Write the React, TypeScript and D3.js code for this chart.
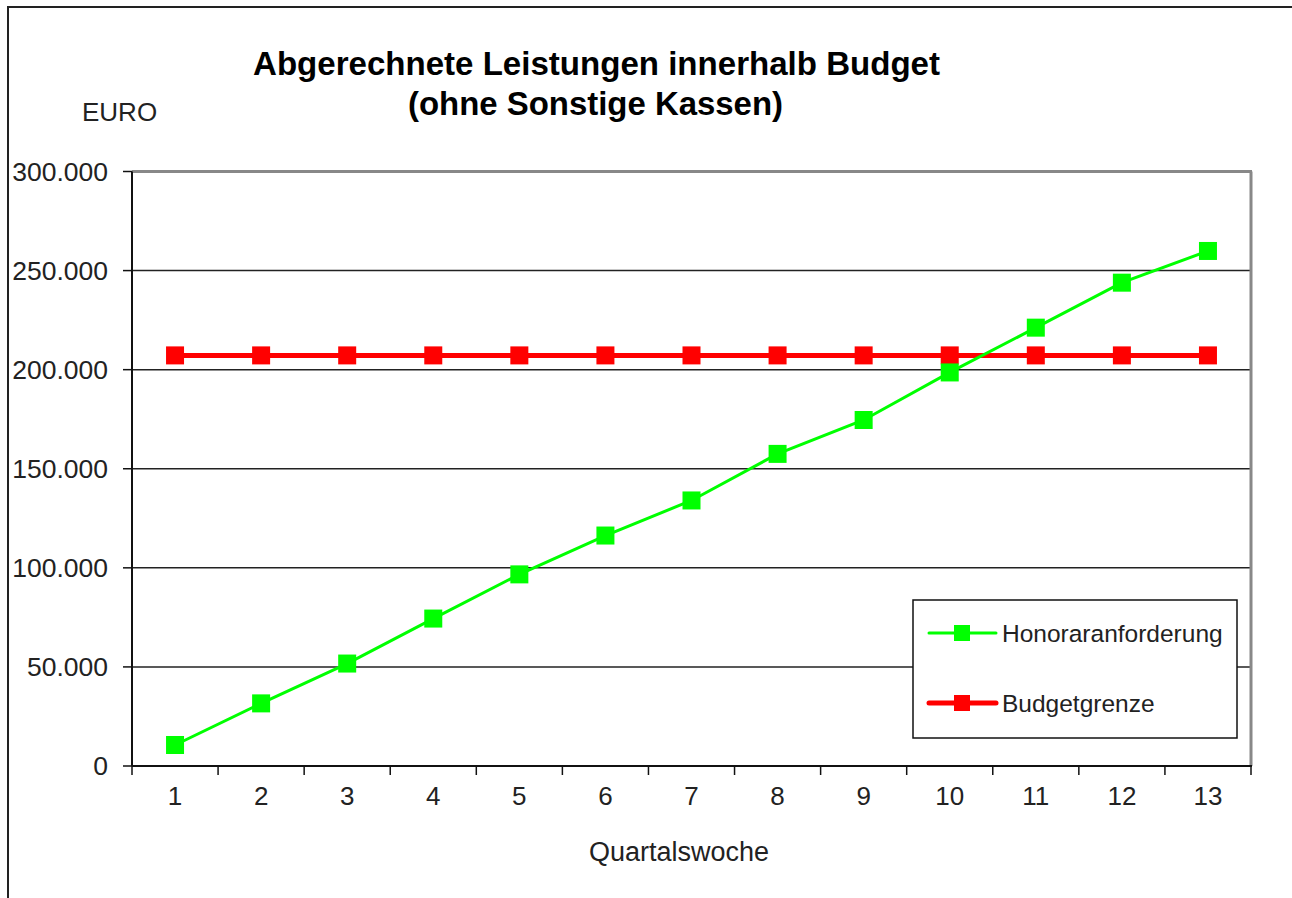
import React from "react";
import * as d3 from "d3";

// Quartalswochen und Werte (EURO)
const weeks = ["1", "2", "3", "4", "5", "6", "7", "8", "9", "10", "11", "12", "13"];
const honorar = [10600, 31600, 51700, 74400, 96700, 116300, 134000, 157500, 174600, 198600, 221200, 243900, 259900];
const budget = [207200, 207200, 207200, 207200, 207200, 207200, 207200, 207200, 207200, 207200, 207200, 207200, 207200];
const yTicks = [0, 50000, 100000, 150000, 200000, 250000, 300000];

const seriesList = [
  { name: "Honoraranforderung", values: honorar, color: "#00ff00", width: 3 },
  { name: "Budgetgrenze", values: budget, color: "#ff0000", width: 5 },
];

const W = 1292;
const H = 898;
const plot = { left: 132, right: 1251, top: 171.5, bottom: 766 };
const font = "'Liberation Sans', Arial, sans-serif";

const de = d3.formatLocale({ decimal: ",", thousands: ".", grouping: [3], currency: ["", " €"] });
const fmt = de.format(",d");

export default function App() {
  const x = d3.scaleBand<string>().domain(weeks).range([plot.left, plot.right]).padding(0);
  const y = d3.scaleLinear().domain([0, 300000]).range([plot.bottom, plot.top]);
  const cx = (w: string) => (x(w) ?? 0) + x.bandwidth() / 2;

  const line = d3
    .line<number>()
    .x((_, i) => cx(weeks[i]))
    .y((d) => y(d));

  const boundaries = weeks.map((w) => x(w) ?? 0).concat([plot.right]);
  const ms = 18; // marker size

  return (
    <svg width={W} height={H} style={{ position: "absolute", left: 0, top: 0, background: "#fff" }}>
      {/* outer frame */}
      <rect x={8} y={7} width={1400} height={1000} fill="#fff" stroke="#222" strokeWidth={2} />

      {/* title */}
      <g fontFamily={font} fontWeight="bold" fontSize={33} textAnchor="middle" fill="#000">
        <text x={596.5} y={75} textLength={687} lengthAdjust="spacingAndGlyphs">
          Abgerechnete Leistungen innerhalb Budget
        </text>
        <text x={595.5} y={115} textLength={375} lengthAdjust="spacingAndGlyphs">
          (ohne Sonstige Kassen)
        </text>
      </g>

      <text x={82} y={121} fontFamily={font} fontSize={26} fill="#222">
        EURO
      </text>

      {/* gridlines */}
      {yTicks
        .filter((t) => t > 0 && t < 300000)
        .map((t) => (
          <line key={t} x1={plot.left} x2={plot.right} y1={y(t)} y2={y(t)} stroke="#222" strokeWidth={1.5} />
        ))}

      {/* plot border: top and right grey */}
      <line x1={plot.left} x2={plot.right + 1} y1={plot.top} y2={plot.top} stroke="#888" strokeWidth={3} />
      <line x1={plot.right} x2={plot.right} y1={plot.top} y2={plot.bottom} stroke="#888" strokeWidth={3} />

      {/* y axis */}
      <line x1={plot.left} x2={plot.left} y1={plot.top} y2={plot.bottom} stroke="#111" strokeWidth={2} />
      {yTicks.map((t) => (
        <g key={t}>
          <line x1={plot.left - 9} x2={plot.left} y1={y(t)} y2={y(t)} stroke="#111" strokeWidth={1.5} />
          <text
            x={108}
            y={y(t)}
            dy="0.35em"
            textAnchor="end"
            fontFamily={font}
            fontSize={26.5}
            fill="#222"
          >
            {fmt(t)}
          </text>
        </g>
      ))}

      {/* x axis */}
      <line x1={plot.left} x2={plot.right + 1} y1={plot.bottom} y2={plot.bottom} stroke="#111" strokeWidth={2} />
      {boundaries.map((b, i) => (
        <line key={i} x1={b} x2={b} y1={plot.bottom} y2={plot.bottom + 9} stroke="#111" strokeWidth={1.5} />
      ))}
      {weeks.map((w) => (
        <text key={w} x={cx(w)} y={805} textAnchor="middle" fontFamily={font} fontSize={26} fill="#222">
          {w}
        </text>
      ))}
      <text x={679} y={861} textAnchor="middle" fontFamily={font} fontSize={27} fill="#222">
        Quartalswoche
      </text>

      {/* series: budget first, green on top */}
      {[seriesList[1], seriesList[0]].map((s) => (
        <g key={s.name}>
          <path d={line(s.values) ?? ""} fill="none" stroke={s.color} strokeWidth={s.width} />
          {s.values.map((v, i) => (
            <rect
              key={i}
              x={cx(weeks[i]) - ms / 2}
              y={y(v) - ms / 2}
              width={ms}
              height={ms}
              fill={s.color}
            />
          ))}
        </g>
      ))}

      {/* legend */}
      <rect x={913} y={600} width={324} height={138} fill="#fff" stroke="#111" strokeWidth={1.5} />
      {seriesList.map((s, i) => {
        const ly = 633 + i * 70;
        return (
          <g key={s.name}>
            <line x1={929} x2={996} y1={ly} y2={ly} stroke={s.color} strokeWidth={s.width} strokeLinecap="round" />
            <rect x={954} y={ly - 8} width={16} height={16} fill={s.color} />
            <text x={1002} y={ly} dy="0.35em" fontFamily={font} fontSize={24.5} fill="#222">
              {s.name}
            </text>
          </g>
        );
      })}
    </svg>
  );
}
